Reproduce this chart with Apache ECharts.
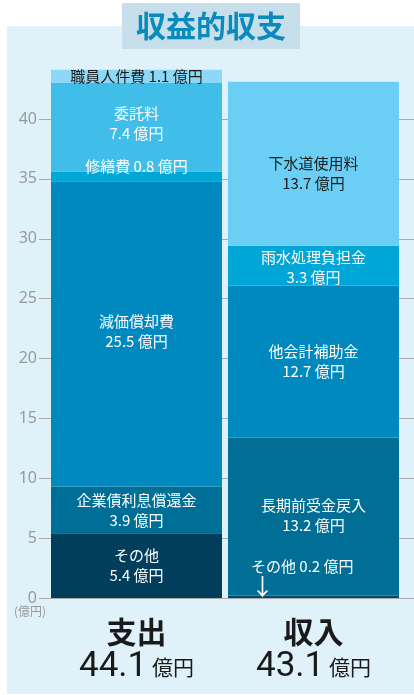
<!DOCTYPE html>
<html><head><meta charset="utf-8">
<script src="https://cdn.jsdelivr.net/npm/echarts@6/dist/echarts.min.js"></script>
<style>html,body{margin:0;padding:0;background:#fff}#c{width:414px;height:695px}</style>
</head><body><div id="c"></div>
<script>
// ---- data ----
const categories = ['支出', '収入'];
const totals = [44.1, 43.1];
const expenseNames = ['その他', '企業債利息償還金', '減価償却費', '修繕費', '委託料', '職員人件費'];
const expenseValues = [5.4, 3.9, 25.5, 0.8, 7.4, 1.1];
const incomeNames = ['その他', '長期前受金戻入', '他会計補助金', '雨水処理負担金', '下水道使用料'];
const incomeValues = [0.2, 13.2, 12.7, 3.3, 13.7];
const yTickMin = 0, yTickMax = 40, yTickStep = 5;
const unit = '億円';
const title = '収益的収支';

// ---- style ----
const FONT = 'Noto Sans CJK JP';
const expenseColors = ['#003e5c', '#006f97', '#0089bf', '#00a6d6', '#40bde9', '#8dd8f6'];
const incomeColors = ['#004a68', '#006e95', '#0089bf', '#00a6d6', '#6bcff5'];
const expenseLabelStyle = [
  {two: true, dy: 0}, {two: true, dy: 0}, {two: true, dy: -3},
  {two: false, dy: -10}, {two: true, dy: -4}, {two: false, dy: 0, dark: true}
];
const incomeLabelStyle = [
  {arrow: true}, {two: true, dy: -1}, {two: true, dy: 0},
  {two: true, dy: 2}, {two: true, dy: 9, dark: true}
];

function makeSeries(names, values, colors, styles, catIndex) {
  return names.map((n, i) => {
    const st = styles[i];
    const data = categories.map((c, ci) => ci === catIndex ? values[i] : '-');
    let label = {
      show: true, position: 'inside', fontFamily: FONT, fontSize: 15, lineHeight: 20,
      color: st.dark ? '#1a1a1a' : '#ffffff', offset: [0, st.dy || 0],
      formatter: st.two ? `${n}\n${values[i]} ${unit}` : `${n} ${values[i]} ${unit}`
    };
    if (st.arrow) {
      label = {
        show: true, position: 'inside', align: 'left', verticalAlign: 'bottom',
        offset: [-62.5, 1],
        formatter: `{t|${n} ${values[i]} ${unit}}\n{a|↓}`,
        rich: {
          t: {fontFamily: FONT, fontSize: 15, lineHeight: 18, color: '#ffffff'},
          a: {fontFamily: FONT, fontSize: 23, lineHeight: 23, color: '#ffffff'}
        }
      };
    }
    return {
      name: n, type: 'bar', stack: 'total', xAxisIndex: 1, yAxisIndex: 1,
      barWidth: 171, data, itemStyle: {color: colors[i]}, label,
      emphasis: {disabled: true}
    };
  });
}

const chart = echarts.init(document.getElementById('c'));
chart.setOption({
  animation: false,
  backgroundColor: '#ffffff',
  title: {
    text: title, left: 122, top: 3, padding: [8, 14, 8, 14],
    backgroundColor: '#c6dfea',
    textStyle: {color: '#0a8abd', fontSize: 30, fontWeight: 'bold', fontFamily: FONT, lineHeight: 30}
  },
  graphic: [
    {type: 'rect', z: -10, shape: {x: 7, y: 26, width: 407, height: 668}, style: {fill: '#dff2fa'}},
    {type: 'text', z: 5, x: 14, y: 605, style: {text: '(' + unit + ')', fill: '#9a9a9a', fontSize: 12, fontFamily: FONT}}
  ],
  grid: [
    {left: 39, right: 0, top: 119, bottom: 97},
    {left: 48, right: 12, top: 59, bottom: 97}
  ],
  xAxis: [
    {type: 'value', gridIndex: 0, min: 0, max: 1, show: false},
    {
      type: 'category', gridIndex: 1, data: categories,
      axisLine: {show: false}, axisTick: {show: false},
      axisLabel: {
        margin: 16,
        formatter: (v, idx) => `{n|${v}}\n{v|${totals[idx]}}{u| ${unit}}`,
        rich: {
          n: {fontSize: 30, fontWeight: 'bold', lineHeight: 36, color: '#1a1a1a', fontFamily: FONT},
          v: {fontSize: 35, lineHeight: 34, color: '#1a1a1a', fontFamily: 'Roboto'},
          u: {fontSize: 21, lineHeight: 34, color: '#1a1a1a', fontFamily: FONT}
        }
      }
    }
  ],
  yAxis: [
    {
      type: 'value', gridIndex: 0, min: yTickMin, max: yTickMax, interval: yTickStep,
      axisLine: {show: false}, axisTick: {show: false},
      axisLabel: {color: '#9a9a9a', fontSize: 16, margin: 2, fontFamily: 'Noto Sans'},
      splitLine: {show: true, lineStyle: {color: '#aaaaaa', width: 1}}
    },
    {type: 'value', gridIndex: 1, min: 0, max: 45, interval: 5, show: false, splitLine: {show: false}}
  ],
  series: [
    ...makeSeries(expenseNames, expenseValues, expenseColors, expenseLabelStyle, 0),
    ...makeSeries(incomeNames, incomeValues, incomeColors, incomeLabelStyle, 1)
  ]
});
</script>
</body></html>
